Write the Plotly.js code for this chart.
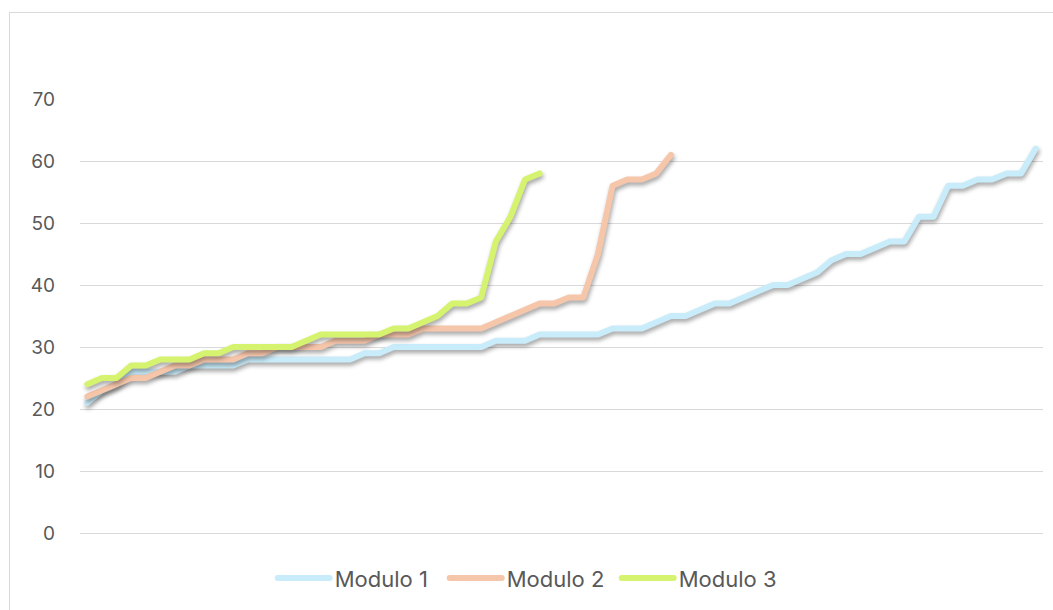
<!DOCTYPE html>
<html>
<head>
<meta charset="utf-8">
<script src="https://cdn.plot.ly/plotly-3.0.1.min.js"></script>
<style>
  html, body { margin: 0; padding: 0; background: #ffffff; overflow: hidden; }
  #frame { position: absolute; left: 9px; top: 12px; width: 1200px; height: 800px; border: 1px solid #D9D9D9; }
  #chart { position: absolute; left: 0; top: 0; width: 1053px; height: 610px; }
  #chart .scatterlayer .js-line { stroke-linecap: round; stroke-linejoin: round; filter: drop-shadow(1px 3px 2px rgba(0,0,0,0.35)); }
  #chart .legend .js-line { stroke-linecap: round; }
</style>
</head>
<body>
<div id="frame"></div>
<div id="chart"></div>
<script>
// Series values (index-based category axis)
const seriesNames = ["Modulo 1", "Modulo 2", "Modulo 3"];
const modulo1 = [21,23,24,26,26,26,26,27,27,27,27,28,28,28,28,28,28,28,28,29,29,30,30,30,30,30,30,30,31,31,31,32,32,32,32,32,33,33,33,34,35,35,36,37,37,38,39,40,40,41,42,44,45,45,46,47,47,51,51,56,56,57,57,58,58,62];
const modulo2 = [22,23,24,25,25,26,27,27,28,28,28,29,29,30,30,30,30,31,31,31,32,32,32,33,33,33,33,33,34,35,36,37,37,38,38,45,56,57,57,58,61];
const modulo3 = [24,25,25,27,27,28,28,28,29,29,30,30,30,30,30,31,32,32,32,32,32,33,33,34,35,37,37,38,47,51,57,58];
const yTicks = [0,10,20,30,40,50,60,70];
const colors = ["#C9ECFA", "#F6C6AB", "#D5F36F"];

const allSeries = [modulo1, modulo2, modulo3];
const categories = modulo1.map((_, i) => i + 1);

const traces = allSeries.map((vals, k) => ({
  type: "scatter",
  mode: "lines",
  name: seriesNames[k],
  x: categories.slice(0, vals.length),
  y: vals,
  line: { color: colors[k], width: 6 },
  hoverinfo: "skip"
}));

const layout = {
  width: 1053,
  height: 610,
  margin: { l: 80, r: 10, t: 99, b: 77 },
  paper_bgcolor: "rgba(0,0,0,0)",
  plot_bgcolor: "rgba(0,0,0,0)",
  font: { family: "Inter, 'Open Sans', sans-serif", size: 19, color: "#595959" },
  showlegend: true,
  legend: {
    orientation: "h",
    x: 0.468, xanchor: "center",
    y: -0.104, yanchor: "middle",
    font: { size: 22, color: "#595959" },
    itemwidth: 52,
    entrywidth: 105,
    entrywidthmode: "pixels",
    traceorder: "normal"
  },
  xaxis: {
    type: "category",
    range: [-0.5, categories.length - 0.5],
    showticklabels: false,
    showgrid: false,
    zeroline: false,
    showline: false,
    ticks: ""
  },
  yaxis: {
    range: [0, 70],
    tickvals: yTicks,
    ticktext: yTicks.map(String),
    showgrid: true,
    gridcolor: "#D9D9D9",
    gridwidth: 1,
    zeroline: true,
    zerolinecolor: "#D9D9D9",
    zerolinewidth: 1,
    showline: false,
    ticks: "",
    ticklabelstandoff: 24,
    tickfont: { size: 19, color: "#595959" }
  }
};

Plotly.newPlot("chart", traces, layout, { staticPlot: true, displayModeBar: false });
</script>
</body>
</html>
